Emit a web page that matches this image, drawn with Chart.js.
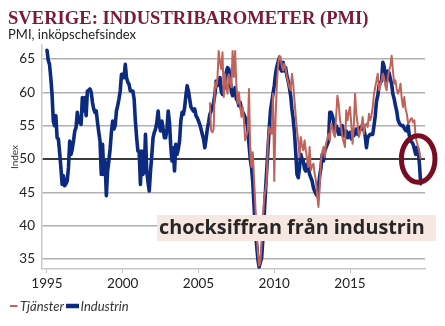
<!DOCTYPE html>
<html>
<head>
<meta charset="utf-8">
<script src="https://cdn.jsdelivr.net/npm/chart.js@4.4.1/dist/chart.umd.min.js"></script>
<style>
  html, body { margin: 0; padding: 0; background: #fff; }
  canvas { display: block; }
</style>
</head>
<body>
<canvas id="c" width="445" height="326"></canvas>
<script>
// Monthly PMI, manufacturing (Industrin), Jan 1995 - Sep 2019
const industrin = [
  66.3, 64.8, 64.2, 62.2, 59.7, 55.7, 55.0, 56.5, 53.2, 53.0, 51.0, 48.7,
  46.2, 47.5, 46.0, 46.3, 46.7, 48.7, 52.7, 50.7, 51.5, 52.7, 54.2, 54.7,
  57.0, 55.5, 55.5, 55.2, 59.2, 57.2, 59.2, 56.5, 60.2, 60.3, 60.5, 60.0,
  58.5, 57.5, 57.0, 57.2, 55.5, 54.0, 52.7, 47.7, 52.2, 47.7, 49.7, 44.5,
  48.2, 49.7, 51.5, 54.0, 55.7, 54.5, 55.0, 57.2, 58.0, 59.0, 60.2, 62.7,
  62.7, 62.2, 64.2, 62.2, 61.5, 61.2, 60.2, 60.2, 60.2, 59.0, 55.7, 53.2,
  51.2, 51.2, 46.2, 51.2, 47.7, 48.2, 53.7, 48.2, 46.5, 45.2, 48.2, 50.5,
  53.2, 54.0, 54.5, 55.5, 57.2, 55.0, 54.2, 55.7, 54.5, 53.2, 53.2, 54.5,
  57.2, 55.5, 52.0, 49.7, 51.7, 48.2, 52.2, 50.7, 51.5, 52.7, 55.7, 57.0,
  56.7, 57.7, 59.5, 61.0, 60.2, 59.0, 57.8, 57.5, 57.2, 57.5, 56.5, 56.2,
  55.7, 55.2, 54.5, 53.7, 53.0, 51.7, 53.0, 54.5, 55.5, 56.7, 57.2, 57.7,
  58.5, 59.7, 61.7, 61.0, 61.8, 62.2, 60.2, 59.7, 60.5, 61.2, 63.0, 63.7,
  63.5, 62.2, 60.2, 59.5, 60.0, 60.7, 59.0, 58.7, 58.0, 58.5, 57.5, 57.0,
  56.7, 56.2, 55.7, 54.5, 52.2, 50.0, 48.7, 46.5, 43.0, 39.5, 37.2, 35.0,
  33.8, 34.5, 35.2, 38.0, 41.5, 45.0, 48.2, 51.5, 54.5, 57.2, 58.5, 59.8,
  61.0, 62.7, 63.8, 64.5, 65.2, 63.5, 63.2, 64.5, 63.2, 63.7, 62.5, 61.7,
  60.7, 59.5, 57.5, 56.0, 54.0, 51.0, 47.7, 47.2, 48.7, 50.7, 50.0, 49.7,
  48.5, 48.2, 49.2, 48.7, 47.7, 47.2, 46.7, 45.7, 45.2, 44.8, 44.5, 45.7,
  47.5, 48.7, 50.7, 49.7, 51.2, 51.7, 52.2, 52.7, 57.0, 57.0, 56.5, 55.7,
  54.2, 55.0, 54.5, 53.7, 54.5, 53.7, 55.0, 53.5, 53.5, 54.2, 53.2, 53.6,
  54.0, 53.0, 54.0, 53.5, 54.0, 54.5, 53.7, 54.0, 54.7, 54.5, 55.2, 54.5,
  53.5, 51.7, 53.2, 53.5, 53.7, 53.7, 53.7, 55.0, 56.5, 58.7, 59.5, 61.0,
  61.5, 61.7, 64.5, 63.9, 62.5, 61.7, 63.2, 62.9, 62.0, 61.2, 59.7, 59.0,
  58.0, 57.2, 55.9, 55.4, 55.1, 55.0, 55.0, 54.6, 54.3, 54.2, 55.0, 53.5,
  52.7, 52.5, 52.2, 51.5, 50.7, 51.7, 51.4, 49.2, 46.3
];

// Monthly PMI, services (Tjänster), Oct 2005 - Sep 2019
const tjanster = [
                                                            58.5, 54.3, 54.0,
  54.5, 61.5, 60.7, 62.0, 66.2, 64.5, 63.5, 66.0, 59.3, 62.7, 61.0, 59.8,
  62.7, 61.5, 60.8, 66.2, 62.3, 66.2, 61.0, 58.3, 60.0, 58.0, 56.3, 57.8,
  55.8, 52.8, 53.5, 54.3, 60.5, 50.8, 48.8, 51.0, 47.0, 43.0, 39.0, 36.0,
  34.0, 34.5, 37.5, 41.0, 44.0, 45.3, 46.8, 52.8, 54.8, 54.0, 53.8, 59.8,
  46.7, 56.0, 61.0, 64.0, 65.5, 65.3, 64.0, 63.3, 64.3, 63.5, 62.3, 61.5,
  60.8, 60.3, 62.8, 61.3, 58.8, 56.5, 54.3, 52.8, 50.3, 53.3, 52.0, 51.3,
  52.8, 51.3, 50.0, 48.8, 51.8, 48.3, 49.0, 49.3, 47.8, 46.8, 44.5, 42.8,
  45.8, 49.8, 51.0, 51.8, 50.3, 52.3, 53.0, 53.8, 52.8, 55.3, 54.8, 53.8,
  53.3, 56.3, 59.5, 58.3, 56.0, 54.8, 53.3, 52.5, 51.8, 57.3, 55.8, 57.0,
  57.8, 55.3, 52.3, 55.0, 59.8, 56.8, 55.3, 53.3, 54.0, 54.8, 56.3, 53.8,
  55.0, 55.3, 54.8, 56.8, 55.8, 56.5, 57.8, 59.8, 60.8, 61.8, 62.8, 60.3,
  61.0, 61.8, 62.8, 62.3, 61.0, 60.3, 62.3, 63.3, 64.0, 65.5, 63.3, 61.3,
  61.8, 60.5, 59.8, 60.3, 61.3, 59.0, 57.8, 59.3, 57.5, 56.8, 55.3, 55.5,
  56.0, 56.1, 55.5, 55.8, 53.3, 52.5, 51.8, 51.0, 50.0
];

const industrinStart = { year: 1995, month: 0 };
const tjansterStart = { year: 2005, month: 9 };
const yearTicks = [1995, 2000, 2005, 2010, 2015];
const indexTicks = [35, 40, 45, 50, 55, 60, 65];

const toPoints = (values, start) =>
  values.map((v, i) => ({ x: start.year + (start.month + i) / 12, y: v }));

const NAVY = '#0c2a80';
const BRICK = '#c0645b';

const decorations = {
  id: 'decorations',
  afterDraw(chart) {
    const { ctx, scales: { x, y } } = chart;
    ctx.save();
    ctx.textAlign = 'left';
    ctx.textBaseline = 'alphabetic';

    // heading
    ctx.fillStyle = '#7b1a35';
    ctx.font = 'bold 18.6px "Liberation Serif"';
    ctx.fillText('SVERIGE: INDUSTRIBAROMETER (PMI)', 8, 24);
    ctx.fillStyle = '#222';
    ctx.font = '13px Lato';
    ctx.fillText('PMI, inköpschefsindex', 8, 39);

    // callout label
    ctx.fillStyle = '#f7e7e1';
    ctx.fillRect(157, 215, 279, 26);
    ctx.fillStyle = '#262626';
    ctx.font = 'bold 19.8px "Open Sans"';
    ctx.fillText('chocksiffran från industrin', 159, 233.5);

    // ring around the latest reading
    ctx.strokeStyle = '#7a0c22';
    ctx.lineWidth = 5;
    ctx.beginPath();
    ctx.ellipse(x.getPixelForValue(2019.5), y.getPixelForValue(50), 16.8, 23.3, 0, 0, Math.PI * 2);
    ctx.stroke();

    // legend
    ctx.lineCap = 'butt';
    ctx.strokeStyle = BRICK;
    ctx.lineWidth = 2;
    ctx.beginPath(); ctx.moveTo(10, 306); ctx.lineTo(17.5, 306); ctx.stroke();
    ctx.strokeStyle = NAVY;
    ctx.lineWidth = 4.5;
    ctx.beginPath(); ctx.moveTo(66, 306); ctx.lineTo(79, 306); ctx.stroke();
    ctx.fillStyle = '#333';
    ctx.font = 'italic 13px Lato';
    ctx.fillText('Tjänster', 20, 310.5);
    ctx.fillText('Industrin', 80.5, 310.5);
    ctx.restore();
  }
};

function draw() {
  Chart.defaults.font.family = 'Lato';
  Chart.defaults.color = '#222';
  new Chart(document.getElementById('c'), {
    type: 'line',
    data: {
      datasets: [
        {
          label: 'Tjänster',
          data: toPoints(tjanster, tjansterStart),
          borderColor: BRICK,
          borderWidth: 2,
          pointRadius: 0,
          tension: 0,
          borderJoinStyle: 'round'
        },
        {
          label: 'Industrin',
          data: toPoints(industrin, industrinStart),
          borderColor: NAVY,
          borderWidth: 3.6,
          pointRadius: 0,
          tension: 0,
          borderJoinStyle: 'round',
          borderCapStyle: 'round'
        }
      ]
    },
    options: {
      responsive: false,
      animation: false,
      devicePixelRatio: 1,
      layout: { padding: { top: 45, right: 20, left: 0, bottom: 0 } },
      plugins: { legend: { display: false }, tooltip: { enabled: false } },
      scales: {
        x: {
          type: 'linear',
          min: 1994.67,
          max: 2019.95,
          afterBuildTicks: s => { s.ticks = yearTicks.map(v => ({ value: v })); },
          afterFit: s => { s.height = 57; },
          ticks: {
            callback: v => String(v),
            font: { size: 13.5 },
            padding: 3,
            maxRotation: 0
          },
          grid: {
            drawOnChartArea: false,
            drawTicks: true,
            tickLength: 4,
            color: '#bdbdbd',
            lineWidth: 1
          },
          border: { display: true, color: '#c9c9c9', width: 1.5 }
        },
        y: {
          min: 33.5,
          max: 67.1,
          afterBuildTicks: s => { s.ticks = indexTicks.map(v => ({ value: v })); },
          afterFit: s => { s.width = 42; },
          ticks: { font: { size: 13.5 }, padding: 7 },
          title: {
            display: true,
            text: 'Index',
            font: { size: 10 },
            color: '#333',
            padding: { top: 9, bottom: 0 }
          },
          grid: {
            drawTicks: false,
            color: c => (c.tick && c.tick.value === 50 ? '#3c3c3c' : '#b0b0b0'),
            lineWidth: c => (c.tick && c.tick.value === 50 ? 2 : 1.5)
          },
          border: { display: true, color: '#c9c9c9', width: 1.5 }
        }
      }
    },
    plugins: [decorations]
  });
}

const fontsReady = document.fonts
  ? Promise.all([
      document.fonts.load('13px Lato'),
      document.fonts.load('italic 13px Lato'),
      document.fonts.load('bold 18.6px "Liberation Serif"'),
      document.fonts.load('bold 19.8px "Open Sans"')
    ]).catch(() => {})
  : Promise.resolve();
fontsReady.then(draw);
</script>
</body>
</html>
